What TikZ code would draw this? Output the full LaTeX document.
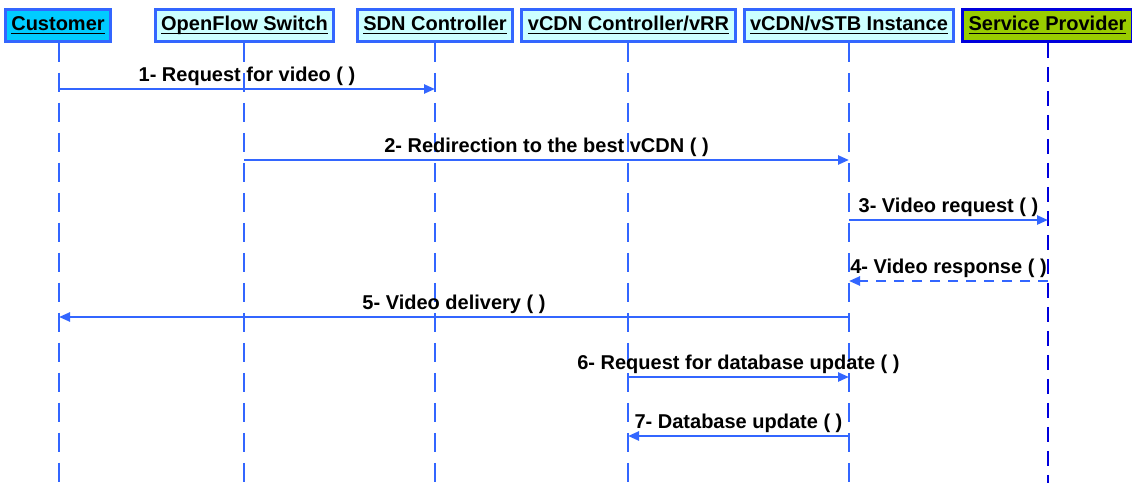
\documentclass[tikz,border=0pt]{standalone}
\usepackage{fontspec}
\setmainfont{Liberation Sans}
\usetikzlibrary{arrows.meta}
\definecolor{lineblue}{RGB}{51,102,255}
\definecolor{deepblue}{RGB}{0,0,220}
\definecolor{custcyan}{RGB}{0,204,255}
\definecolor{palecyan}{RGB}{204,255,255}
\definecolor{spgreen}{RGB}{153,204,0}
\newcommand{\hdr}[1]{\setbox0=\hbox{#1}\dp0=0pt $\underline{\box0}$}
\tikzstyle{actor}=[draw=lineblue, line width=1.5pt, fill=palecyan, minimum height=15.5pt, inner xsep=3pt, font=\bfseries]
\tikzstyle{life}=[lineblue, line width=1.2pt, dash pattern=on 9.5pt off 5.5pt]
\tikzstyle{splife}=[deepblue, line width=1.2pt, dash pattern=on 7.5pt off 4.5pt]
\tikzstyle{msg}=[lineblue, line width=1.2pt]
\tikzstyle{reply}=[lineblue, line width=1.2pt, dash pattern=on 5pt off 4pt]
\tikzstyle{lbl}=[above=0pt, inner sep=1pt, black, font=\bfseries]

\begin{document}
\begin{tikzpicture}[x=0.5pt, y=-0.5pt, >={Triangle[length=5.5pt,width=4.5pt]}]
\useasboundingbox (0,0) rectangle (1132,483);
\draw (58,25.5) node[actor, fill=custcyan] (cust) {\hdr{Customer}};
\draw (244.5,25.5) node[actor] (ofs) {\hdr{OpenFlow Switch}};
\draw (435,25.5) node[actor] (sdn) {\hdr{SDN Controller}};
\draw (628.5,25.5) node[actor] (vrr) {\hdr{vCDN Controller/vRR}};
\draw (849,25.5) node[actor] (vstb) {\hdr{vCDN/vSTB Instance}};
\draw (1047.5,25.5) node[actor, draw=deepblue, fill=spgreen] (sp) {\hdr{Service Provider}};

% lifelines
\coordinate (custend) at (59,483);
\coordinate (ofsend) at (244,483);
\coordinate (sdnend) at (435,483);
\coordinate (vrrend) at (628,483);
\coordinate (vstbend) at (849,483);
\coordinate (spend) at (1048,483);
\draw[life] (cust.south -| custend) -- (custend);
\draw[life] (ofs.south -| ofsend) -- (ofsend);
\draw[life] (sdn.south -| sdnend) -- (sdnend);
\draw[life] (vrr.south -| vrrend) -- (vrrend);
\draw[life] (vstb.south -| vstbend) -- (vstbend);
\draw[splife] (sp.south -| spend) -- (spend);

% messages
\coordinate (m1a) at (59,89);   \coordinate (m1b) at (435,89);
\coordinate (m2a) at (244,160); \coordinate (m2b) at (849,160);
\coordinate (m3a) at (849,220); \coordinate (m3b) at (1048,220);
\coordinate (m4a) at (1048,281); \coordinate (m4b) at (849,281);
\coordinate (m5a) at (849,317); \coordinate (m5b) at (59,317);
\coordinate (m6a) at (628,377); \coordinate (m6b) at (849,377);
\coordinate (m7a) at (849,436); \coordinate (m7b) at (628,436);

\draw[msg, ->] (m1a) -- node[lbl] {1- Request for video ( )} (m1b);
\draw[msg, ->] (m2a) -- node[lbl] {2- Redirection to the best vCDN ( )} (m2b);
\draw[msg, ->] (m3a) -- node[lbl] {3- Video request ( )} (m3b);
\draw[reply, ->] (m4a) -- node[lbl] {4- Video response ( )} (m4b);
\draw[msg, ->] (m5a) -- node[lbl] {5- Video delivery ( )} (m5b);
\draw[msg, ->] (m6a) -- node[lbl] {6- Request for database update ( )} (m6b);
\draw[msg, ->] (m7a) -- node[lbl] {7- Database update ( )} (m7b);
\end{tikzpicture}
\end{document}
